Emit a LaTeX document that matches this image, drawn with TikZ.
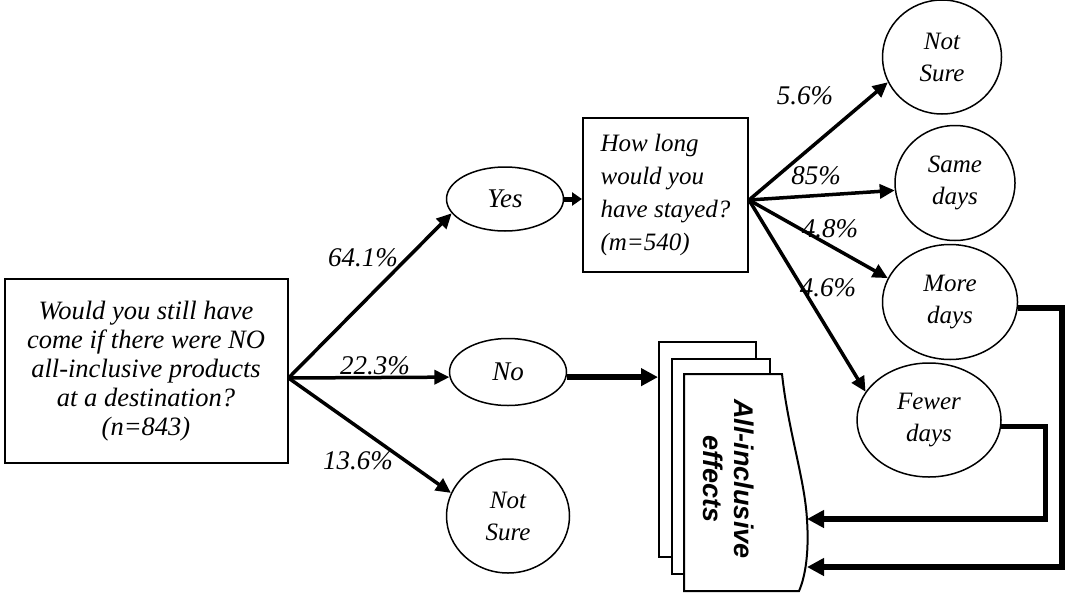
\documentclass[tikz,border=0pt]{standalone}
\usepackage{fontspec}
\setmainfont{Liberation Serif}
\setsansfont{Liberation Sans}
\usetikzlibrary{arrows.meta,shapes.geometric}
\begin{document}
\begin{tikzpicture}[x=1pt,y=-1pt,
  txt/.style={font=\itshape\fontsize{25}{32}\selectfont, align=center},
  pct/.style={font=\itshape\fontsize{27}{30}\selectfont, inner sep=0pt},
  oval/.style={draw, ellipse, line width=1.5pt, inner sep=0pt, txt},
  qbox/.style={draw, rectangle, line width=2pt, inner sep=0pt},
  page/.style={draw, rectangle, line width=2pt, fill=white, inner sep=0pt},
  conn/.style={line width=3.5pt, -{Triangle[length=15pt,width=14pt]}},
  thickconn/.style={line width=5.5pt, -{Triangle[length=17pt,width=17pt]}},
]
\useasboundingbox (0,0) rectangle (1067,594);

% document stack
\node[page, minimum width=97pt, minimum height=215pt] (pg1) at (707.5,449.5) {};
\node[page, minimum width=98pt, minimum height=215pt] (pg2) at (721,466.5) {};
\draw[line width=2pt, fill=white] (684,374) -- (782,374)
  .. controls (788,430) and (805,480) .. (807,520)
  .. controls (809,550) and (806,575) .. (799,591) -- (684,591) -- cycle;
\coordinate (in1) at (807,519);
\coordinate (in2) at (807,567);
\node[rotate=-90, font=\sffamily\bfseries\itshape\fontsize{27}{31}\selectfont, align=center, inner sep=0pt] (aie) at (729,479) {All-inclusive\\effects};

% question boxes
\node[qbox, minimum width=283pt, minimum height=184pt, align=center,
  font=\itshape\fontsize{26.5}{29}\selectfont] (q1) at (146,371)
  {Would you still have\\come if there were NO\\all-inclusive products\\at a destination?\\(n=843)};
\node[qbox, minimum width=165pt, minimum height=154pt, align=left,
  font=\itshape\fontsize{25}{33}\selectfont] (how) at (665.5,195)
  {How long\\would you\\have stayed?\\(m=540)};

% answer ovals
\node[oval, minimum width=117pt, minimum height=64pt, font=\itshape\fontsize{27}{32}\selectfont] (yes) at (505,199) {Yes};
\node[oval, minimum width=117pt, minimum height=67pt, font=\itshape\fontsize{27}{32}\selectfont] (no) at (508,372) {No};
\node[oval, minimum width=123pt, minimum height=114pt] (ns1) at (508,516) {Not\\Sure};
\node[oval, minimum width=119pt, minimum height=114pt] (ns2) at (942,57) {Not\\Sure};
\node[oval, minimum width=120pt, minimum height=115pt] (same) at (955,183) {Same\\days};
\node[oval, minimum width=135pt, minimum height=115pt] (more) at (950,302) {More\\days};
\node[oval, minimum width=144pt, minimum height=114pt] (fewer) at (929,420) {Fewer\\days};

% branch points
\coordinate (br) at ([yshift=-7pt]q1.east);
\coordinate (hb) at ([yshift=-5pt]how.east);

% connectors
\draw[conn] (br) -- (yes.195);
\draw[conn] (br) -- (no.185);
\draw[conn] (br) -- (ns1.158);
\draw[line width=5pt, -{Triangle[length=10pt,width=13pt]}] (yes.east) -- (yes.east -| how.west);
\draw[thickconn] (no.355) -- (no.355 -| pg1.west);
\draw[conn] (hb) -- (ns2.205);
\draw[conn] (hb) -- (same.187);
\draw[conn] (hb) -- (more.159);
\draw[conn] (hb) -- (fewer.156);
\draw[thickconn] (more.355) -- ++(44,0) |- (in2);
\draw[thickconn] (fewer.355) -- ++(44,0) |- (in1);

% labels
\node[pct] (l1) at (363,258) {64.1\%};
\node[pct] (l2) at (375,366) {22.3\%};
\node[pct] (l3) at (358,461) {13.6\%};
\node[pct] (l4) at (805,96) {5.6\%};
\node[pct] (l5) at (816,176) {85\%};
\node[pct] (l6) at (830,229) {4.8\%};
\node[pct] (l7) at (828,288) {4.6\%};
\end{tikzpicture}
\end{document}
